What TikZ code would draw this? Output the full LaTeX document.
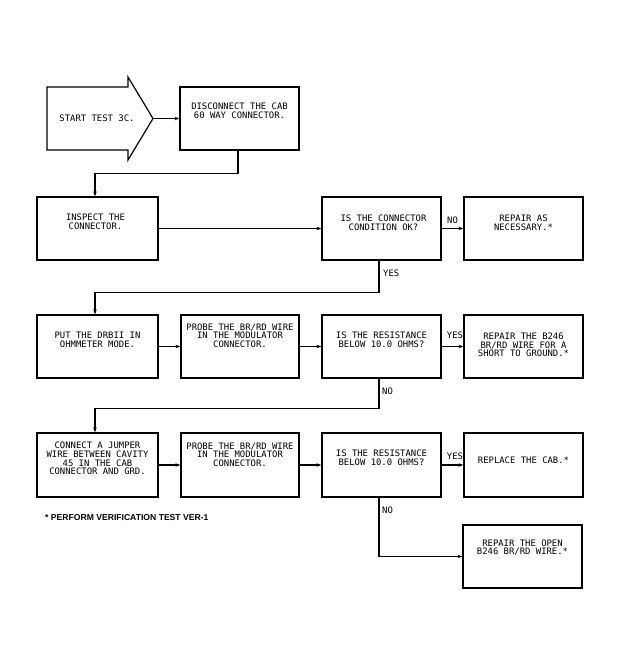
\documentclass[tikz,border=0pt]{standalone}
\usepackage{fontspec}
\setmainfont{Liberation Sans}
\newfontfamily\plotfont{DejaVu Sans Mono}
\usetikzlibrary{arrows.meta,calc}
\begin{document}
\begin{tikzpicture}[x=1pt,y=-1pt,
 box/.style={draw,line width=1.2pt,rectangle,inner sep=0pt,minimum width=119,minimum height=63},
 txt/.style={font=\plotfont\fontsize{8.9}{8.6}\selectfont,align=center,inner sep=0pt},
 lbl/.style={font=\plotfont\fontsize{8.9}{9}\selectfont,inner sep=0pt},
 conn/.style={line width=1.1pt,-{Stealth[length=5pt,width=3.5pt]}},
 foot/.style={font=\fontsize{8.6}{10}\selectfont\bfseries,inner sep=0pt,anchor=west}]
\useasboundingbox (0,0) rectangle (632,665);
% start arrow
\draw[line width=1.2pt,line join=miter] (47,87) -- (128,87) -- (128,77) -- (153,118.5)
  -- (128,160) -- (128,150) -- (47,150) -- cycle;
\coordinate (tip) at (153,118.5);
\node[txt] (tstart) at (97,118.5) {START TEST 3C.};
% boxes
\node[box] (disc) at (239.5,118.5) {};
\node[box,minimum width=121] (insp) at (97.5,228.5) {};
\node[box] (cond) at (381.5,228.5) {};
\node[box] (repA) at (523.5,228.5) {};
\node[box,minimum width=121] (put) at (97.5,346.5) {};
\node[box,minimum width=118] (prb1) at (240,346.5) {};
\node[box] (res1) at (381.5,346.5) {};
\node[box] (repB) at (523.5,346.5) {};
\node[box,minimum width=121,minimum height=64] (conn4) at (97.5,465) {};
\node[box,minimum width=118,minimum height=64] (prb2) at (240,465) {};
\node[box,minimum height=64] (res2) at (381.5,465) {};
\node[box,minimum height=64] (repl) at (523.5,465) {};
\node[box] (repO) at (522.5,556.5) {};
% texts
\node[txt] (tdisc) at ($(disc.center)+(0,-7.5)$) {DISCONNECT THE CAB\\60 WAY CONNECTOR.};
\node[txt] (tinsp) at ($(insp.center)+(-2,-6.5)$) {INSPECT THE\\CONNECTOR.};
\node[txt] (tcond) at ($(cond.center)+(2,-6)$) {IS THE CONNECTOR\\CONDITION OK?};
\node[txt] (trepA) at ($(repA.center)+(0,-5.5)$) {REPAIR AS\\NECESSARY.*};
\node[txt] (tput) at ($(put.center)+(0,-6.5)$) {PUT THE DRBII IN\\OHMMETER MODE.};
\node[txt] (tprb1) at ($(prb1.center)+(0,-11)$) {PROBE THE BR/RD WIRE\\IN THE MODULATOR\\CONNECTOR.};
\node[txt] (tres1) at ($(res1.center)+(0,-7)$) {IS THE RESISTANCE\\BELOW 10.0 OHMS?};
\node[txt] (trepB) at ($(repB.center)+(0,-1.5)$) {REPAIR THE B246\\BR/RD WIRE FOR A\\SHORT TO GROUND.*};
\node[txt] (tconn4) at ($(conn4.center)+(0,-6.5)$) {CONNECT A JUMPER\\WIRE BETWEEN CAVITY\\45 IN THE CAB\\CONNECTOR AND GRD.};
\node[txt] (tprb2) at ($(prb2.center)+(0,-10.5)$) {PROBE THE BR/RD WIRE\\IN THE MODULATOR\\CONNECTOR.};
\node[txt] (tres2) at ($(res2.center)+(0,-7.5)$) {IS THE RESISTANCE\\BELOW 10.0 OHMS?};
\node[txt] (trepl) at ($(repl.center)+(0,-5)$) {REPLACE THE CAB.*};
\node[txt] (trepO) at ($(repO.center)+(0,-9)$) {REPAIR THE OPEN\\B246 BR/RD WIRE.*};
\node[foot] (fn) at (45,518) {* PERFORM VERIFICATION TEST VER-1};
% connectors
\draw[conn] (tip) -- (disc.west);
\draw[conn] ([xshift=-1.5]disc.south) -- ++(0,23) -| ([xshift=-2.5]insp.north);
\draw[conn] (insp.east) -- (cond.west);
\draw[conn] (cond.east) -- (repA.west);
\draw[conn] ([xshift=-2.5]cond.south) -- ++(0,31.5) -| ([xshift=-2.5]put.north);
\draw[conn] (put.east) -- (prb1.west);
\draw[conn] (prb1.east) -- (res1.west);
\draw[conn] (res1.east) -- (repB.west);
\draw[conn] ([xshift=-2.5]res1.south) -- ++(0,29.5) -| ([xshift=-2.5]conn4.north);
\draw[conn] (conn4.east) -- (prb2.west);
\draw[conn] (prb2.east) -- (res2.west);
\draw[conn] (res2.east) -- (repl.west);
\draw[conn] ([xshift=-2.5]res2.south) |- (repO.west);
% labels
\node[lbl] (lno1) at (452.5,220) {NO};
\node[lbl,anchor=west] (lyes1) at (383,273.5) {YES};
\node[lbl] (lyes2) at (455,335.5) {YES};
\node[lbl,anchor=west] (lno2) at (382,391) {NO};
\node[lbl] (lyes3) at (455,456.5) {YES};
\node[lbl,anchor=west] (lno3) at (382,510) {NO};
\end{tikzpicture}
\end{document}
